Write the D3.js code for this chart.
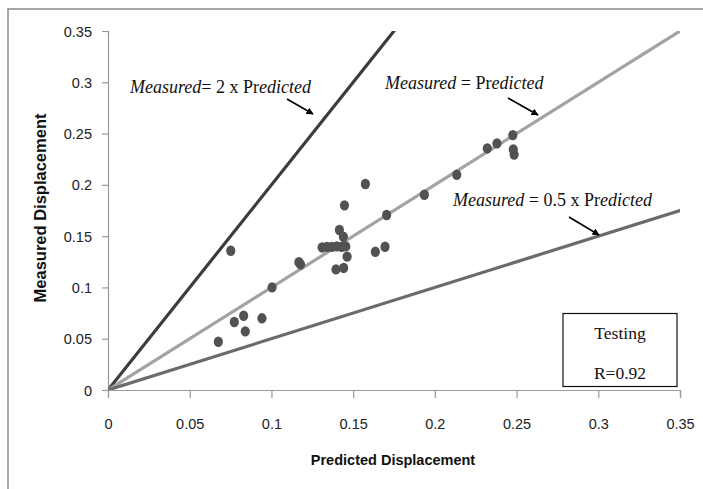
<!DOCTYPE html>
<html>
<head>
<meta charset="utf-8">
<script src="https://cdn.jsdelivr.net/npm/d3@7"></script>
<style>
  html, body { margin: 0; padding: 0; background: #fff; }
  svg { display: block; }
</style>
</head>
<body>
<svg id="chart" width="703" height="489"></svg>
<script>
// ---- data ----
const predicted = [0.0675, 0.0751, 0.0773, 0.0830, 0.0840, 0.0942, 0.1004, 0.1168, 0.1178,
  0.1310, 0.1340, 0.1370, 0.1400, 0.1430, 0.1455, 0.1416, 0.1440, 0.1447, 0.1463, 0.1395,
  0.1442, 0.1575, 0.1636, 0.1695, 0.1705, 0.1936, 0.2134, 0.2321, 0.2380, 0.2477, 0.2480, 0.2485];
const measured = [0.0470, 0.1358, 0.0663, 0.0724, 0.0572, 0.0699, 0.1001, 0.1245, 0.1225,
  0.1390, 0.1395, 0.1395, 0.1400, 0.1395, 0.1400, 0.1560, 0.1494, 0.1800, 0.1300, 0.1176,
  0.1190, 0.2008, 0.1348, 0.1397, 0.1706, 0.1904, 0.2099, 0.2355, 0.2404, 0.2485, 0.2345, 0.2295];
const tickValues = [0, 0.05, 0.1, 0.15, 0.2, 0.25, 0.3, 0.35];
const tickLabels = ["0", "0.05", "0.1", "0.15", "0.2", "0.25", "0.3", "0.35"];
const ratioLines = [
  { factor: 2, color: "#3c3c3c" },
  { factor: 1, color: "#a3a3a3" },
  { factor: 0.5, color: "#6b6b6b" }
];
const annotations = [
  { lead: "= 2 x Pr", tail: "edicted" },
  { lead: " = Pr", tail: "edicted" },
  { lead: " = 0.5 x Pr", tail: "edicted" }
];
const legendLines = ["Testing", "R=0.92"];
const xTitle = "Predicted Displacement";
const yTitle = "Measured Displacement";

// ---- layout ----
const svg = d3.select("#chart");
const x = d3.scaleLinear().domain([0, 0.35]).range([108, 680]);
const y = d3.scaleLinear().domain([0, 0.35]).range([390, 31]);

// outer frame
svg.append("rect").attr("x", 8).attr("y", 9).attr("width", 720).attr("height", 500)
  .attr("fill", "none").attr("stroke", "#8a8a8a").attr("stroke-width", 1.5);

const fmt = d => tickLabels[tickValues.indexOf(d)];

const xAxis = svg.append("g").attr("transform", `translate(0,${y(0)})`)
  .call(d3.axisBottom(x).tickValues(tickValues).tickFormat(fmt).tickSize(8).tickPadding(21));
const yAxis = svg.append("g").attr("transform", `translate(${x(0)},0)`)
  .call(d3.axisLeft(y).tickValues(tickValues).tickFormat(fmt).tickSize(6).tickPadding(10));
[xAxis, yAxis].forEach(g => {
  g.select(".domain").attr("stroke", "#9a9a9a").attr("stroke-width", 1.2);
  g.selectAll(".tick line").attr("stroke", "#9a9a9a").attr("stroke-width", 1.2);
  g.selectAll(".tick text").attr("fill", "#222").attr("font-family", "Liberation Sans, Arial, sans-serif").attr("font-size", 14.5);
});
yAxis.selectAll(".tick text").attr("dy", "0.35em");

// axis titles
svg.append("text").attr("x", 393).attr("y", 465).attr("text-anchor", "middle")
  .attr("font-family", "Liberation Sans, Arial, sans-serif").attr("font-weight", "bold")
  .attr("font-size", 14.5).attr("fill", "#111").text(xTitle);
svg.append("text").attr("transform", "translate(46,208) rotate(-90)").attr("text-anchor", "middle")
  .attr("font-family", "Liberation Sans, Arial, sans-serif").attr("font-weight", "bold")
  .attr("font-size", 16.5).attr("fill", "#111").text(yTitle);

// clip to plot area
svg.append("clipPath").attr("id", "plot").append("rect")
  .attr("x", x(0)).attr("y", y(0.35)).attr("width", x(0.35) - x(0)).attr("height", y(0) - y(0.35));

// ratio lines
svg.append("g").attr("clip-path", "url(#plot)").selectAll("line").data(ratioLines).join("line")
  .attr("x1", x(0)).attr("y1", y(0))
  .attr("x2", d => x(Math.min(0.35, 0.35 / d.factor)))
  .attr("y2", d => y(Math.min(0.35, 0.35 / d.factor) * d.factor))
  .attr("stroke", d => d.color).attr("stroke-width", 3.2).attr("stroke-linecap", "round");

// points
const pts = predicted.map((p, i) => ({ p, m: measured[i] }));
svg.append("g").selectAll("ellipse").data(pts).join("ellipse")
  .attr("cx", d => x(d.p)).attr("cy", d => y(d.m)).attr("rx", 4.6).attr("ry", 5.2)
  .attr("fill", "#525252");

// annotations
const defs = svg.append("defs");
defs.append("marker").attr("id", "arrow").attr("viewBox", "0 0 10 10").attr("refX", 9).attr("refY", 5)
  .attr("markerWidth", 4.5).attr("markerHeight", 4.5).attr("orient", "auto")
  .append("path").attr("d", "M0,0 L10,5 L0,10 z").attr("fill", "#000");

const annPos = [
  { tx: 130, ty: 93, ax1: 287, ay1: 99, ax2: 313, ay2: 114 },
  { tx: 385, ty: 89, ax1: 508, ay1: 98, ax2: 538, ay2: 115 },
  { tx: 453, ty: 206, ax1: 569, ay1: 217, ax2: 599, ay2: 235 }
];
annotations.forEach((a, i) => {
  const p = annPos[i];
  const t = svg.append("text").attr("x", p.tx).attr("y", p.ty)
    .attr("font-family", "Liberation Serif, 'Times New Roman', serif").attr("font-size", 18).attr("fill", "#111");
  t.append("tspan").attr("font-style", "italic").text("Measured");
  t.append("tspan").text(a.lead);
  t.append("tspan").attr("font-style", "italic").text(a.tail);
  svg.append("line").attr("x1", p.ax1).attr("y1", p.ay1).attr("x2", p.ax2).attr("y2", p.ay2)
    .attr("stroke", "#000").attr("stroke-width", 1.6).attr("marker-end", "url(#arrow)");
});

// legend box
svg.append("rect").attr("x", 563).attr("y", 313.5).attr("width", 114).attr("height", 73)
  .attr("fill", "#fff").attr("stroke", "#111").attr("stroke-width", 1.2);
svg.selectAll(".leg").data(legendLines).join("text").attr("class", "leg")
  .attr("x", 620).attr("y", (d, i) => 339 + i * 40).attr("text-anchor", "middle")
  .attr("font-family", "Liberation Serif, 'Times New Roman', serif").attr("font-size", 17.5)
  .attr("fill", "#111").text(d => d);
</script>
</body>
</html>
